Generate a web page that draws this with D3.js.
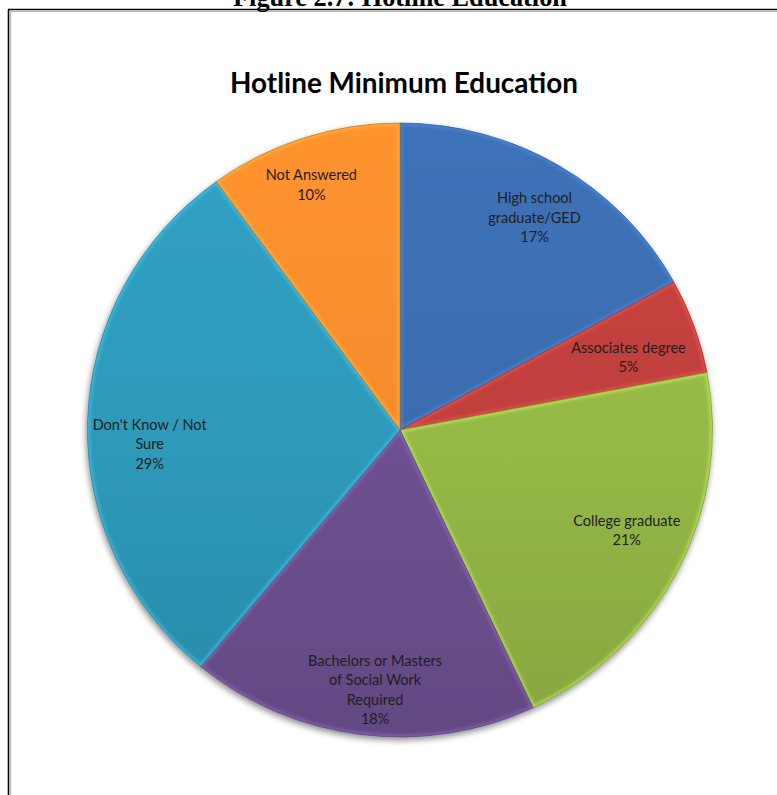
<!DOCTYPE html>
<html>
<head>
<meta charset="utf-8">
<script src="https://cdn.jsdelivr.net/npm/d3@7"></script>
<style>
  html, body { margin: 0; padding: 0; background: #fff; }
  svg { display: block; }
</style>
</head>
<body>
<script>
// Minimum education required for hotline staff (share of responses)
const categories = [
  "High school graduate/GED",
  "Associates degree",
  "College graduate",
  "Bachelors or Masters of Social Work Required",
  "Don't Know / Not Sure",
  "Not Answered"
];
const shares = [17, 5, 21, 18, 29, 10];
const labelLines = [
  ["High school", "graduate/GED"],
  ["Associates degree"],
  ["College graduate"],
  ["Bachelors or Masters", "of Social Work", "Required"],
  ["Don't Know / Not", "Sure"],
  ["Not Answered"]
];
const figureTitle = "Figure 2.7: Hotline Education";
const chartTitle = "Hotline Minimum Education";

// styling / layout
const sliceColors = ["#3a6cae", "#bf403c", "#96b946", "#6e5192", "#2e9aba", "#f68c2c"];
// small nudges that move each data label off its centroid for legibility
const labelNudge = [[5, 3], [-11, 12], [0, -13], [7, 12], [4, 22], [-10, -7]];

const W = 777, H = 795;
const cx = 400, cy = 430, R = 307, xStretch = 1.018;

const svg = d3.select("body").append("svg")
  .attr("width", W).attr("height", H)
  .attr("viewBox", `0 0 ${W} ${H}`);

const defs = svg.append("defs");

// soft shadow under the pie
const shadow = defs.append("filter").attr("id", "pieShadow")
  .attr("x", "-10%").attr("y", "-10%").attr("width", "120%").attr("height", "120%");
shadow.append("feGaussianBlur").attr("in", "SourceAlpha").attr("stdDeviation", 3).attr("result", "b");
shadow.append("feOffset").attr("in", "b").attr("dx", -1).attr("dy", 3).attr("result", "o");
shadow.append("feComponentTransfer").attr("in", "o").attr("result", "s")
  .append("feFuncA").attr("type", "linear").attr("slope", 0.45);
const merge = shadow.append("feMerge");
merge.append("feMergeNode").attr("in", "s");
merge.append("feMergeNode").attr("in", "SourceGraphic");

// blur for bevel highlights
defs.append("filter").attr("id", "edgeBlur")
  .append("feGaussianBlur").attr("stdDeviation", 1.6);

// per-slice vertical gradient (lighter toward the top of the pie)
sliceColors.forEach((c, i) => {
  const g = defs.append("linearGradient").attr("id", "grad" + i)
    .attr("gradientUnits", "userSpaceOnUse")
    .attr("x1", 0).attr("y1", -R).attr("x2", 0).attr("y2", R);
  const base = d3.color(c);
  g.append("stop").attr("offset", "0%").attr("stop-color", base.brighter(0.15));
  g.append("stop").attr("offset", "50%").attr("stop-color", base);
  g.append("stop").attr("offset", "100%").attr("stop-color", base.darker(0.3));
});

// frame around the figure
svg.append("line").attr("x1", 8.5).attr("y1", 10).attr("x2", 8.5).attr("y2", H)
  .attr("stroke", "#000").attr("stroke-width", 1.6);
svg.append("line").attr("x1", 10.5).attr("y1", 11).attr("x2", 10.5).attr("y2", H)
  .attr("stroke", "#bbb").attr("stroke-width", 1.4);
svg.append("line").attr("x1", 8).attr("y1", 9.5).attr("x2", W).attr("y2", 9.5)
  .attr("stroke", "#000").attr("stroke-width", 1.6);
svg.append("line").attr("x1", 10).attr("y1", 11.3).attr("x2", W).attr("y2", 11.3)
  .attr("stroke", "#bbb").attr("stroke-width", 1.2);

// figure caption, running off the top edge
const fig = svg.append("text")
  .attr("x", 400).attr("y", 5.5)
  .attr("text-anchor", "middle")
  .style("font-family", "'Liberation Serif', 'Times New Roman', serif")
  .style("font-weight", "bold")
  .style("font-size", "20px")
  .attr("fill", "#000")
  .text(figureTitle);
{
  const w = fig.node().getComputedTextLength();
  fig.style("font-size", (20 * 334 / w).toFixed(2) + "px");
}

// chart title
const title = svg.append("text")
  .attr("x", 404).attr("y", 93)
  .attr("text-anchor", "middle")
  .style("font-family", "Lato, 'Open Sans', sans-serif")
  .style("font-weight", "bold")
  .style("font-size", "24px")
  .attr("fill", "#000")
  .text(chartTitle);
{
  const w = title.node().getComputedTextLength();
  title.style("font-size", (24 * 348 / w).toFixed(2) + "px");
}

const data = categories.map((c, i) => ({ category: c, value: shares[i], lines: labelLines[i], i }));

const pie = d3.pie().value(d => d.value).sort(null);
const arcs = pie(data);
const arc = d3.arc().innerRadius(0).outerRadius(R);
const labelArc = d3.arc().innerRadius(250).outerRadius(250);

const pieG = svg.append("g")
  .attr("transform", `translate(${cx},${cy}) scale(${xStretch},1)`)
  .attr("filter", "url(#pieShadow)");

const slices = pieG.selectAll("g.slice").data(arcs).join("g").attr("class", "slice");

slices.each(function (d) {
  const g = d3.select(this);
  const i = d.data.i;
  const base = d3.color(sliceColors[i]);
  defs.append("clipPath").attr("id", "lclip" + i).append("path").attr("d", arc(d));

  g.append("path")
    .attr("d", arc(d))
    .attr("fill", `url(#grad${i})`);

  // bevel: soft light rim inside the slice edges
  g.append("g").attr("clip-path", `url(#lclip${i})`)
    .append("path")
    .attr("d", arc(d))
    .attr("fill", "none")
    .attr("stroke", base.brighter(0.9))
    .attr("stroke-opacity", 0.5)
    .attr("stroke-width", 5)
    .attr("filter", "url(#edgeBlur)");

  g.append("path")
    .attr("d", arc(d))
    .attr("fill", "none")
    .attr("stroke", base.darker(0.7))
    .attr("stroke-width", 0.8)
    .attr("stroke-opacity", 0.8);
});

// slice labels
const lineH = 19.5;
const labels = svg.append("g")
  .style("font-family", "Lato, 'Open Sans', sans-serif")
  .style("font-size", "14.5px")
  .attr("fill", "#1e1e1e");

arcs.forEach(d => {
  const [lx, ly] = labelArc.centroid(d);
  const [nx, ny] = labelNudge[d.data.i];
  const lines = d.data.lines.concat([d.data.value + "%"]);
  const x = cx + lx * xStretch + nx;
  const y0 = cy + ly + ny - (lines.length - 1) * lineH / 2 + 5;
  const t = labels.append("text").attr("text-anchor", "middle");
  lines.forEach((s, k) => {
    t.append("tspan").attr("x", x).attr("y", y0 + k * lineH).text(s);
  });
});
</script>
</body>
</html>
